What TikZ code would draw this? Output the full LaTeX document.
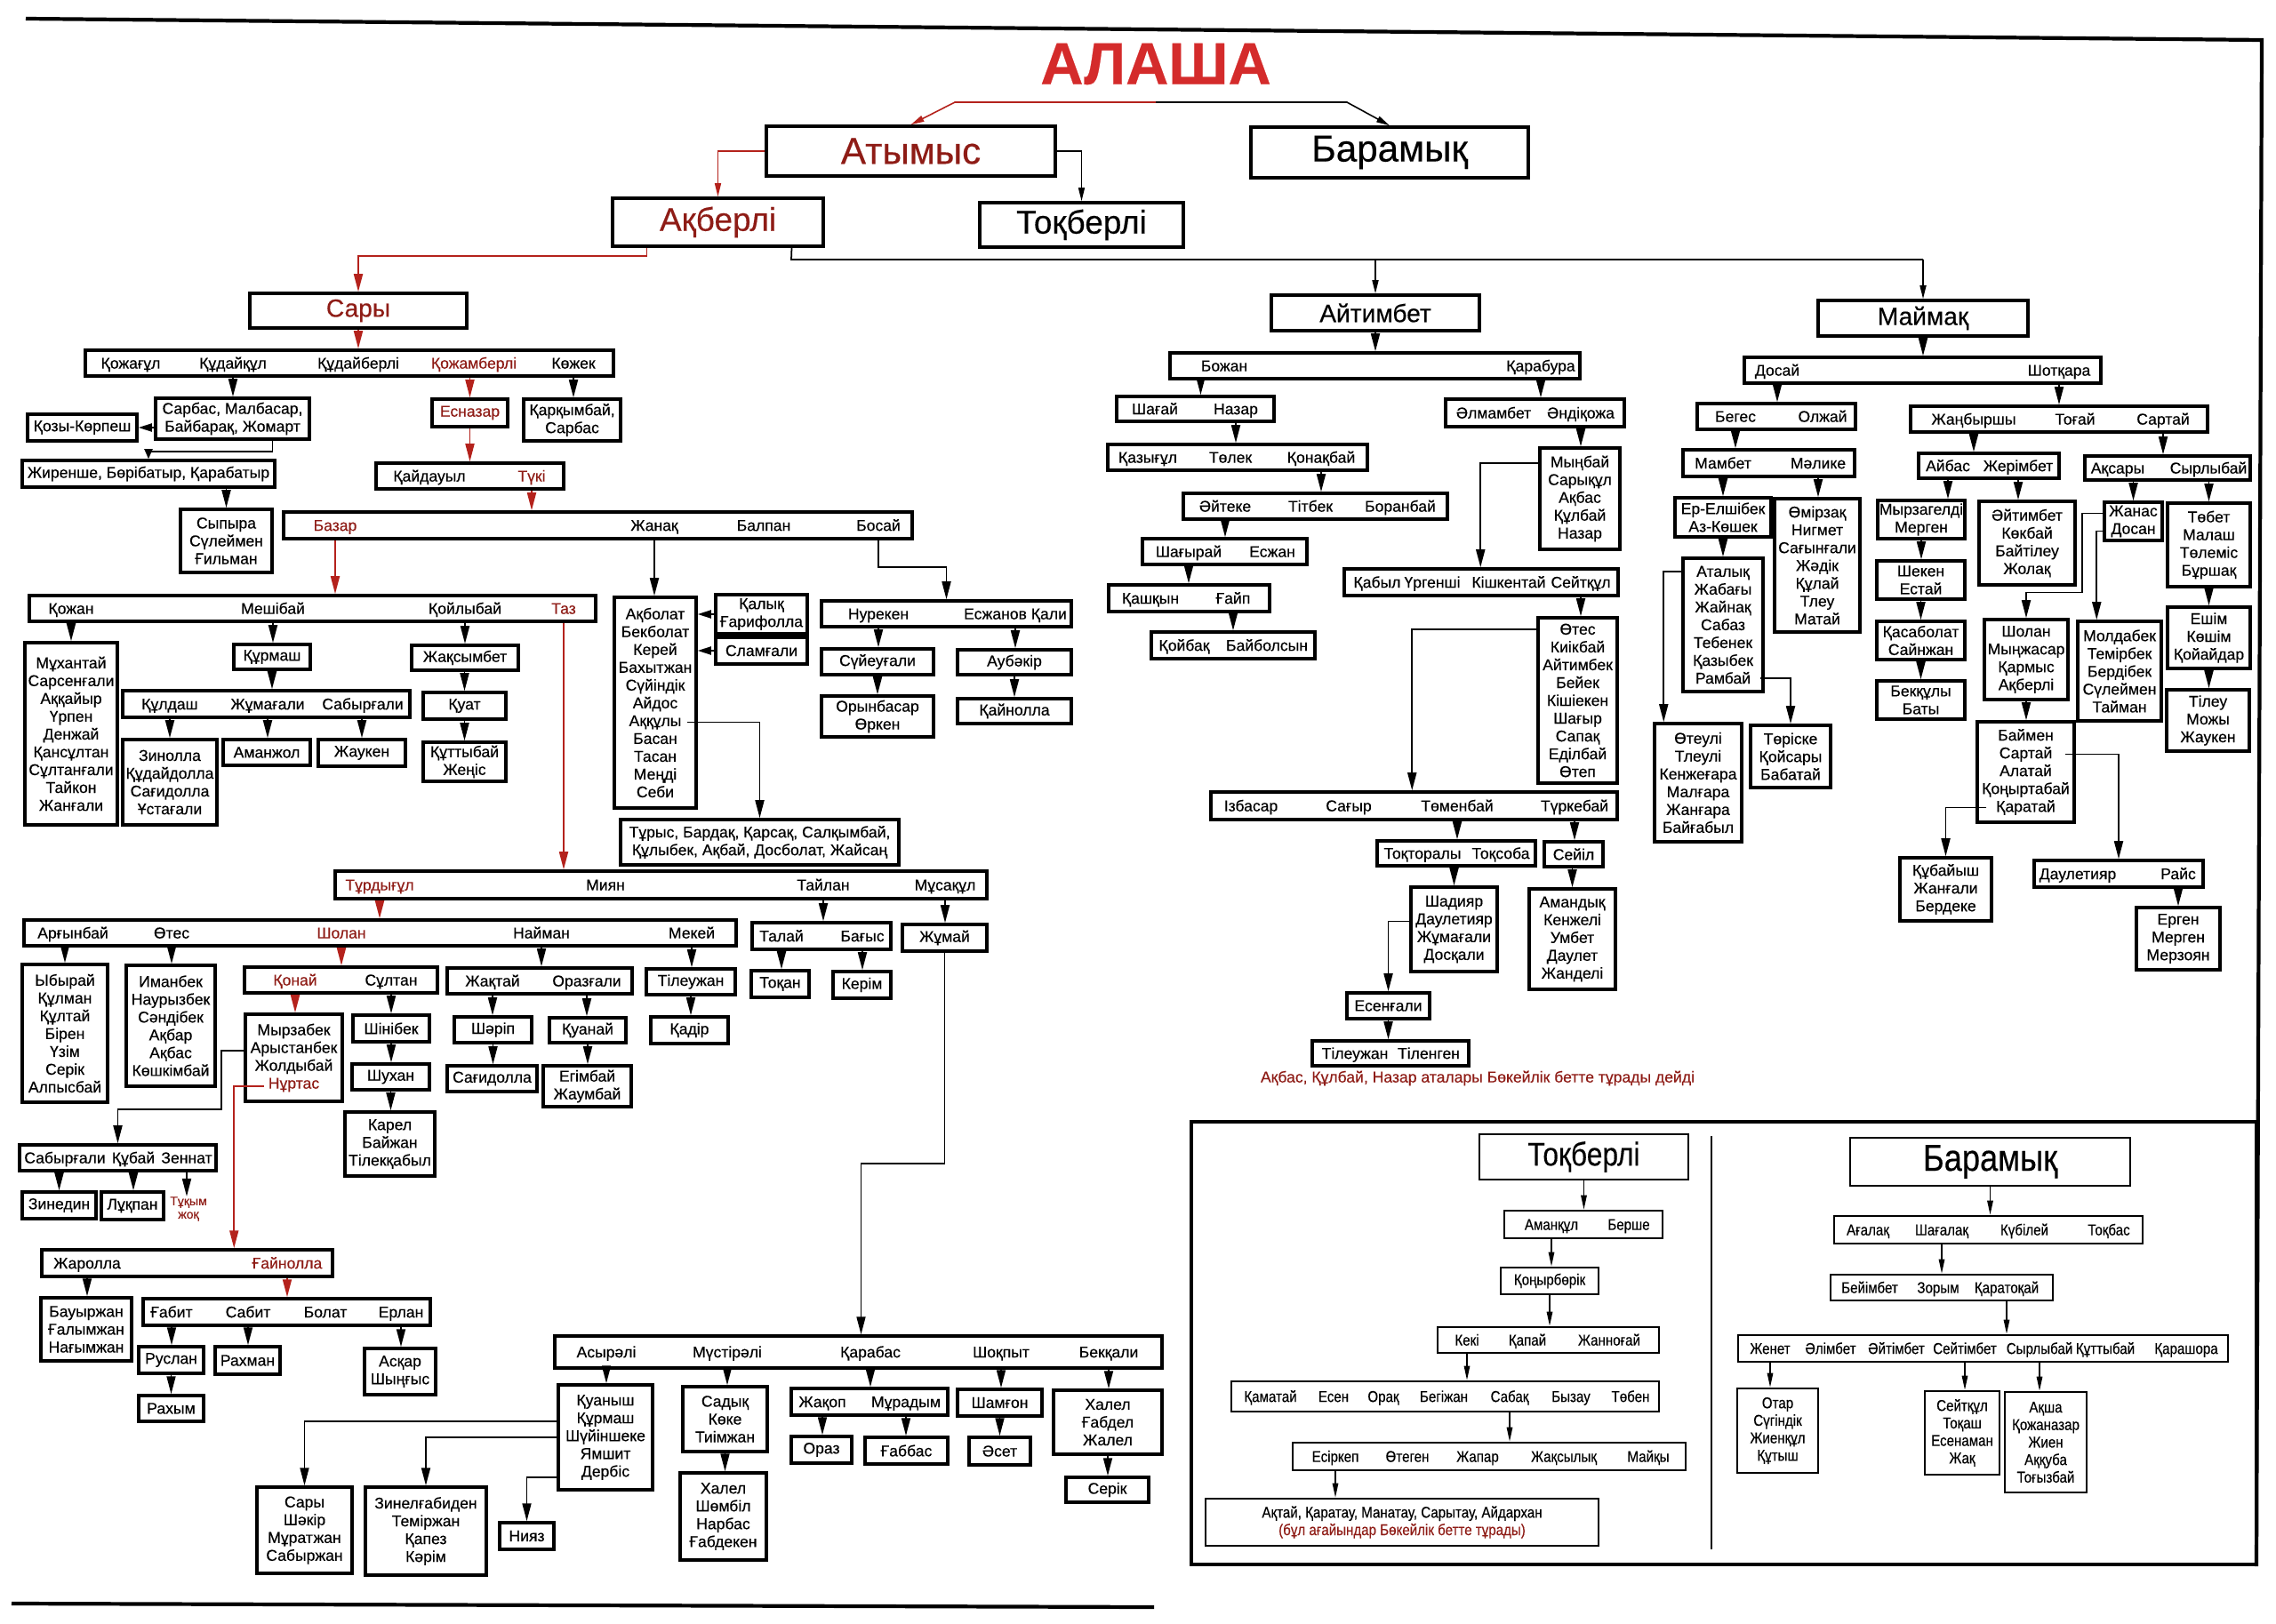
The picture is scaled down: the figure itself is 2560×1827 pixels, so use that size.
\documentclass[tikz,border=0pt]{standalone}
\usepackage{fontspec}
\setmainfont{Liberation Sans}[FakeBold=0.35]
\newfontfamily\condfont{Liberation Sans}[FakeStretch=0.86, FakeBold=0.35]
\usepackage{tikz}
\usetikzlibrary{positioning, arrows.meta, calc}
\usepackage{xcolor}
\definecolor{titlered}{HTML}{D42B2B}
\definecolor{lineagered}{HTML}{8E1C16}
\definecolor{arrowred}{HTML}{B4221C}
\newcommand{\NameFont}{\fontsize{10}{11.4}\selectfont}
\newcommand{\InsetFont}{\condfont\fontsize{10}{11.2}\selectfont}
\newcommand{\ClanFont}{\fontsize{16}{18}\selectfont}
\newcommand{\TribeFont}{\fontsize{24}{26}\selectfont}
\newcommand{\SubFont}{\fontsize{21}{23}\selectfont}

\begin{document}
\begin{tikzpicture}[
  x=0.2mm, y=-0.2mm,
  every node/.style={font=\NameFont},
  cell/.style args={#1/#2/#3/#4}{at={({(#1+#3)/2},{(#2+#4)/2})},
    minimum width={(#3-#1)*0.2mm}, minimum height={(#4-#2)*0.2mm}},
  box/.style={draw, line width=2pt, inner sep=0pt, align=center},
  rowbox/.style={draw, line width=2pt, inner sep=0pt},
  ibox/.style={box, line width=1.5pt, font=\InsetFont},
  irowbox/.style={rowbox, line width=1.5pt},
  nm/.style={inner sep=0pt, text height=8pt, text depth=1pt},
  rnm/.style={nm, text=lineagered},
  inm/.style={nm, font=\InsetFont},
  wire/.style={line width=1pt},
  arr/.style={line width=1pt, -{Triangle[length=4mm, width=2mm]}},
  rarr/.style={arr, draw=arrowred},
  tarr/.style={line width=0.9pt, -{Triangle[length=3mm, width=1.4mm]}},
  iarr/.style={line width=0.8pt, -{Triangle[length=3.2mm, width=1.3mm]}},
  pageline/.style={line width=2.4pt}
]
\useasboundingbox (0,0) rectangle (2560,1827);

% page rules
\draw[pageline] (29,21) -- (2544,45) -- (2538,1762);
\draw[pageline] (13,1804) -- (1298,1808);

% title and the two branches
\node[font=\fontsize{38}{40}\selectfont\bfseries, text=titlered] (alasha) at (1300,72) {АЛАША};
\node[box, font=\TribeFont, text=lineagered, cell=862/142/1187/198] (atymys) {Атымыс};
\node[box, font=\TribeFont, cell=1407/143/1719/200] (baramyk) {Барамық};
\node[box, font=\SubFont, text=lineagered, cell=689/223/926/277] (akberli) {Ақберлі};
\node[box, font=\SubFont, cell=1102/228/1331/278] (tokberli) {Тоқберлі};

\coordinate (split) at (1300,115);
\draw[tarr, draw=arrowred] (split) -- ++(-226,0) -- (atymys.north);
\draw[tarr] (split) -- ++(215,0) -- (baramyk.north);
\draw[tarr, draw=arrowred] (atymys.west) -| (akberli.north);
\draw[tarr] (atymys.east) -| (tokberli.north);

% ---------------- Сары ----------------
\node[box, font=\ClanFont, text=lineagered, cell=281/330/525/369] (sary) {Сары};
\node[rowbox, cell=96/394/690/423] (rsary) {};
\node[nm] (kozhagul) at (147,0 |- rsary) {Қожағұл};
\node[nm] (kudaikul) at (262,0 |- rsary) {Құдайқұл};
\node[nm] (kudaiberli) at (403,0 |- rsary) {Құдайберлі};
\node[rnm] (kozhamberli) at (533,0 |- rsary) {Қожамберлі};
\node[nm] (kozhek) at (645,0 |- rsary) {Көжек};

\node[box, cell=175/448/348/494] (sarbas) {Сарбас, Малбасар,\\Байбарақ, Жомарт};
\node[box, cell=31/466/154/496] (kozy) {Қозы-Көрпеш};
\node[box, cell=25/518/309/548] (zhirenshe) {Жиренше, Бөрібатыр, Қарабатыр};
\node[box, cell=203/573/306/644] (sypyra) {Сыпыра\\Сүлеймен\\Ғильман};
\node[box, text=lineagered, cell=486/449/571/480] (esnazar) {Есназар};
\node[box, cell=589/449/698/496] (karkymbai) {Қарқымбай,\\Сарбас};

\node[rowbox, cell=423/521/634/550] (rkaidauyl) {};
\node[nm] (kaidauyl) at (483,0 |- rkaidauyl) {Қайдауыл};
\node[rnm] (tuki) at (598,0 |- rkaidauyl) {Түкі};

\node[rowbox, cell=319/576/1026/606] (rbazar) {};
\node[rnm] (bazar) at (377,0 |- rbazar) {Базар};
\node[nm] (zhanak) at (736,0 |- rbazar) {Жанақ};
\node[nm] (balpan) at (859,0 |- rbazar) {Балпан};
\node[nm] (bosai) at (988,0 |- rbazar) {Босай};

\node[rowbox, cell=33/670/670/699] (rkozhan) {};
\node[nm] (kozhan) at (80,0 |- rkozhan) {Қожан};
\node[nm] (meshibai) at (307,0 |- rkozhan) {Мешібай};
\node[nm] (koilybai) at (523,0 |- rkozhan) {Қойлыбай};
\node[rnm] (taz) at (634,0 |- rkozhan) {Таз};

\node[box, cell=28/723/132/928] (mukhantai) {Мұхантай\\Сарсенғали\\Аққайыр\\Үрпен\\Денжай\\Қансұлтан\\Сұлтанғали\\Тайкон\\Жанғали};
\node[box, cell=263/725/349/753] (kurmash) {Құрмаш};
\node[rowbox, cell=138/777/461/807] (rkuldash) {};
\node[nm] (kuldash) at (191,0 |- rkuldash) {Құлдаш};
\node[nm] (zhumagali) at (301,0 |- rkuldash) {Жұмағали};
\node[nm] (sabyrgali) at (408,0 |- rkuldash) {Сабырғали};
\node[box, cell=138/832/244/928] (zinolla) {Зинолла\\Құдайдолла\\Сағидолла\\Ұстағали};
\node[box, cell=251/832/349/861] (amanzhol) {Аманжол};
\node[box, cell=358/832/456/862] (zhauken) {Жаукен};
\node[box, cell=463/726/583/754] (zhaksymbet) {Жақсымбет};
\node[box, cell=476/779/569/809] (kuat) {Қуат};
\node[box, cell=476/835/569/879] (kuttybai) {Құттыбай\\Жеңіс};

\node[box, cell=691/672/783/909] (akbolat) {Ақболат\\Бекболат\\Керей\\Бахытжан\\Сүйіндік\\Айдос\\Аққұлы\\Басан\\Тасан\\Меңді\\Себи};
\node[box, cell=805/669/908/713] (kalyk) {Қалық\\Ғарифолла};
\node[box, cell=805/717/908/747] (slamgali) {Сламғали};
\node[rowbox, cell=924/676/1205/705] (rnureken) {};
\node[nm] (nureken) at (988,0 |- rnureken) {Нурекен};
\node[nm] (eszhanov) at (1142,0 |- rnureken) {Есжанов Қали};
\node[box, cell=924/730/1050/759] (suieugali) {Сүйеуғали};
\node[box, cell=924/783/1050/829] (orynbasar) {Орынбасар\\Өркен};
\node[box, cell=1077/731/1205/759] (aubakir) {Аубәкір};
\node[box, cell=1077/786/1205/814] (kainolla) {Қайнолла};
\node[box, cell=698/922/1011/973] (turys) {Тұрыс, Бардақ, Қарсақ, Салқымбай,\\Құлыбек, Ақбай, Досболат, Жайсаң};

% Тұрдығұл line
\node[rowbox, cell=377/980/1110/1011] (rturdygul) {};
\node[rnm] (turdygul) at (427,0 |- rturdygul) {Тұрдығұл};
\node[nm] (miyan) at (681,0 |- rturdygul) {Миян};
\node[nm] (tailan) at (926,0 |- rturdygul) {Тайлан};
\node[nm] (musakul) at (1063,0 |- rturdygul) {Мұсақұл};

\node[rowbox, cell=27/1035/828/1064] (rargynbai) {};
\node[nm] (argynbai) at (82,0 |- rargynbai) {Арғынбай};
\node[nm] (otes) at (193,0 |- rargynbai) {Өтес};
\node[rnm] (sholan) at (384,0 |- rargynbai) {Шолан};
\node[nm] (naiman) at (609,0 |- rargynbai) {Найман};
\node[nm] (mekei) at (778,0 |- rargynbai) {Мекей};

\node[rowbox, cell=846/1038/1002/1068] (rtalai) {};
\node[nm] (talai) at (879,0 |- rtalai) {Талай};
\node[nm] (bagys) at (970,0 |- rtalai) {Бағыс};
\node[box, cell=845/1092/910/1122] (tokan) {Тоқан};
\node[box, cell=937/1093/1002/1123] (kerim) {Керім};
\node[box, cell=1015/1040/1110/1070] (zhumai) {Жұмай};
\node[box, cell=727/1090/827/1119] (tileuzhan) {Тілеужан};
\node[box, cell=732/1144/819/1174] (kadir) {Қадір};

\node[box, cell=25/1085/121/1240] (ybyrai) {Ыбырай\\Құлман\\Құлтай\\Бірен\\Үзім\\Серік\\Алпысбай};
\node[box, cell=142/1086/242/1222] (imanbek) {Иманбек\\Наурызбек\\Сәндібек\\Ақбар\\Ақбас\\Көшкімбай};
\node[rowbox, cell=275/1088/492/1117] (rkonai) {};
\node[rnm] (konai) at (332,0 |- rkonai) {Қонай};
\node[nm] (sultan) at (440,0 |- rkonai) {Сұлтан};
\node[box, cell=276/1141/385/1239] (myrzabek) {Мырзабек\\Арыстанбек\\Жолдыбай\\\textcolor{lineagered}{Нұртас}};
\node[box, cell=397/1142/483/1172] (shinibek) {Шінібек};
\node[box, cell=396/1197/483/1226] (shukhan) {Шухан};
\node[box, cell=388/1251/489/1323] (karel) {Карел\\Байжан\\Тілекқабыл};
\node[rowbox, cell=503/1089/711/1118] (rzhaktai) {};
\node[nm] (zhaktai) at (554,0 |- rzhaktai) {Жақтай};
\node[nm] (orazgali) at (660,0 |- rzhaktai) {Оразғали};
\node[box, cell=511/1144/598/1173] (sharip) {Шәріп};
\node[box, cell=503/1199/604/1228] (sagidolla) {Сағидолла};
\node[box, cell=618/1145/704/1173] (kuanai) {Қуанай};
\node[box, cell=611/1199/710/1245] (egimbai) {Егімбай\\Жаумбай};

\node[rowbox, cell=22/1288/243/1317] (rsabyr) {};
\node[nm] (sabyrgalii) at (73,0 |- rsabyr) {Сабырғали};
\node[nm] (kubai) at (150,0 |- rsabyr) {Құбай};
\node[nm] (zennat) at (210,0 |- rsabyr) {Зеннат};
\node[box, cell=25/1341/108/1371] (zinedin) {Зинедин};
\node[box, cell=114/1341/184/1372] (lukpan) {Лұқпан};
\node[font=\fontsize{8}{8.5}\selectfont, text=lineagered, align=center, inner sep=0pt] (tukym) at (212,1360) {Тұқым\\жоқ};

\node[rowbox, cell=47/1406/374/1436] (rzharolla) {};
\node[nm] (zharolla) at (98,0 |- rzharolla) {Жаролла};
\node[rnm] (gainolla) at (323,0 |- rzharolla) {Ғайнолла};
\node[box, cell=46/1460/148/1531] (bauyrzhan) {Бауыржан\\Ғалымжан\\Нағымжан};
\node[rowbox, cell=161/1461/484/1491] (rgabit) {};
\node[nm] (gabit) at (193,0 |- rgabit) {Ғабит};
\node[nm] (sabit) at (279,0 |- rgabit) {Сабит};
\node[nm] (bolat) at (366,0 |- rgabit) {Болат};
\node[nm] (erlan) at (451,0 |- rgabit) {Ерлан};
\node[box, cell=156/1515/229/1545] (ruslan) {Руслан};
\node[box, cell=242/1515/315/1546] (rakhman) {Рахман};
\node[box, cell=410/1517/490/1569] (askar) {Асқар\\Шыңғыс};
\node[box, cell=156/1570/229/1599] (rakhym) {Рахым};

% Жұмай line
\node[rowbox, cell=624/1503/1307/1539] (rasyrali) {};
\node[nm] (asyrali) at (682,0 |- rasyrali) {Асырәлі};
\node[nm] (mustirali) at (818,0 |- rasyrali) {Мүстірәлі};
\node[nm] (karabas) at (979,0 |- rasyrali) {Қарабас};
\node[nm] (shokpyt) at (1126,0 |- rasyrali) {Шоқпыт};
\node[nm] (bekkali) at (1247,0 |- rasyrali) {Бекқали};
\node[box, cell=628/1558/734/1676] (kuanysh) {Қуаныш\\Құрмаш\\Шүйіншеке\\Ямшит\\Дербіс};
\node[box, cell=768/1560/863/1633] (sadyk) {Садық\\Көке\\Тиімжан};
\node[box, cell=765/1657/862/1755] (khalel) {Халел\\Шөмбіл\\Нарбас\\Ғабдекен};
\node[rowbox, cell=890/1562/1066/1592] (rzhakop) {};
\node[nm] (zhakop) at (925,0 |- rzhakop) {Жақоп};
\node[nm] (muradym) at (1019,0 |- rzhakop) {Мұрадым};
\node[box, cell=890/1616/958/1646] (oraz) {Ораз};
\node[box, cell=973/1617/1066/1647] (gabbas) {Ғаббас};
\node[box, cell=1077/1563/1172/1593] (shamgon) {Шамғон};
\node[box, cell=1090/1617/1159/1648] (aset) {Әсет};
\node[box, cell=1185/1564/1307/1636] (khalelb) {Халел\\Ғабдел\\Жалел};
\node[box, cell=1199/1662/1292/1690] (serik) {Серік};
\node[box, cell=289/1673/396/1770] (saryb) {Сары\\Шәкір\\Мұратжан\\Сабыржан};
\node[box, cell=411/1673/547/1772] (zinel) {Зинелғабиден\\Теміржан\\Қапез\\Кәрім};
\node[box, cell=562/1713/623/1743] (niyaz) {Нияз};

% wires, Сары side (red = the line of descent)
\draw[rarr] ($(akberli.south)+(-80,0)$) -- ++(0,9) -| (sary.north);
\draw[rarr] (sary.south) -- (sary.south |- rsary.north);
\foreach \x/\p/\c in {esnazar/rsary/esnazar,esnazar/esnazar/rkaidauyl,
                      tuki/rkaidauyl/rbazar,bazar/rbazar/rkozhan,
                      taz/rkozhan/rturdygul,turdygul/rturdygul/rargynbai,
                      sholan/rargynbai/rkonai,konai/rkonai/myrzabek,
                      gainolla/rzharolla/rgabit}
  \draw[rarr] (\x |- \p.south) -- (\x |- \c.north);
\foreach \x/\p/\c in {kudaikul/rsary/sarbas,kozhek/rsary/karkymbai,
                      sypyra/zhirenshe/sypyra,kozhan/rkozhan/mukhantai,
                      meshibai/rkozhan/kurmash,kurmash/kurmash/rkuldash,
                      kuldash/rkuldash/zinolla,zhumagali/rkuldash/amanzhol,
                      zhauken/rkuldash/zhauken,koilybai/rkozhan/zhaksymbet,
                      kuat/zhaksymbet/kuat,kuttybai/kuat/kuttybai,
                      zhanak/rbazar/akbolat,nureken/rnureken/suieugali,
                      suieugali/suieugali/orynbasar,eszhanov/rnureken/aubakir,
                      aubakir/aubakir/kainolla,ybyrai/rargynbai/ybyrai,
                      otes/rargynbai/imanbek,sultan/rkonai/shinibek,
                      shinibek/shinibek/shukhan,shukhan/shukhan/karel,
                      naiman/rargynbai/rzhaktai,zhaktai/rzhaktai/sharip,
                      sharip/sharip/sagidolla,orazgali/rzhaktai/kuanai,
                      kuanai/kuanai/egimbai,mekei/rargynbai/tileuzhan,
                      tileuzhan/tileuzhan/kadir,tailan/rturdygul/rtalai,
                      talai/rtalai/tokan,bagys/rtalai/kerim,
                      musakul/rturdygul/zhumai,zinedin/rsabyr/zinedin,
                      kubai/rsabyr/lukpan,zennat/rsabyr/tukym,
                      zharolla/rzharolla/bauyrzhan,gabit/rgabit/ruslan,
                      sabit/rgabit/rakhman,erlan/rgabit/askar,
                      ruslan/ruslan/rakhym,asyrali/rasyrali/kuanysh,
                      mustirali/rasyrali/sadyk,sadyk/sadyk/khalel,
                      karabas/rasyrali/rzhakop,zhakop/rzhakop/oraz,
                      muradym/rzhakop/gabbas,shokpyt/rasyrali/shamgon,
                      shamgon/shamgon/aset,bekkali/rasyrali/khalelb,
                      khalelb/khalelb/serik}
  \draw[arr] (\x |- \p.south) -- (\x |- \c.north);

\draw[arr, -{Triangle[length=3mm, width=1.8mm]}] (sarbas.west |- kozy.east) -- (kozy.east);
\draw[arr, -{Triangle[length=2.2mm, width=1.8mm]}] ($(sarbas.south)+(45,0)$) -- ++(0,12) -| (zhirenshe.north);
\draw[arr] (bosai |- rbazar.south) -- ++(0,30) -| (rnureken.north);
\draw[arr, -{Triangle[length=3mm, width=1.8mm]}] (kalyk.west) -- (kalyk.west -| akbolat.east);
\draw[arr, -{Triangle[length=3mm, width=1.8mm]}] (slamgali.west) -- (slamgali.west -| akbolat.east);
\draw[arr] ($(akbolat.east)+(-12,22)$) -| (turys.north);
\draw[arr] ($(myrzabek.west)+(0,-8)$) -- ++(-25,0) -- ++(0,66) -| (rsabyr.north);
\draw[rarr] ($(myrzabek.west)+(23,32)$) -- ++(-34,0) coordinate (nb) -- (nb |- rzharolla.north);
\draw[arr] (zhumai.south) -- ++(0,237) -- ++(-94,0) coordinate (jb) -- (jb |- rasyrali.north);
\draw[arr] ($(kuanysh.west)+(0,-18)$) -| (saryb.north);
\draw[arr] (kuanysh.west) -| (zinel.north);
\draw[arr] ($(kuanysh.west)+(0,45)$) -| (niyaz.north);

% ---------------- Айтимбет ----------------
\node[box, font=\ClanFont, cell=1430/332/1664/372] (aitimbet) {Айтимбет};
\node[rowbox, cell=1316/397/1777/426] (rbozhan) {};
\node[nm] (bozhan) at (1377,0 |- rbozhan) {Божан};
\node[nm] (karabura) at (1733,0 |- rbozhan) {Қарабура};
\node[rowbox, cell=1256/446/1433/474] (rshagai) {};
\node[nm] (shagai) at (1299,0 |- rshagai) {Шағай};
\node[nm] (nazar) at (1390,0 |- rshagai) {Назар};
\node[rowbox, cell=1246/500/1538/529] (rkazygul) {};
\node[nm] (kazygul) at (1291,0 |- rkazygul) {Қазығұл};
\node[nm] (tolek) at (1384,0 |- rkazygul) {Төлек};
\node[nm] (konakbai) at (1486,0 |- rkazygul) {Қонақбай};
\node[rowbox, cell=1331/555/1628/584] (raiteke) {};
\node[nm] (aiteke) at (1378,0 |- raiteke) {Әйтеке};
\node[nm] (titbek) at (1474,0 |- raiteke) {Тітбек};
\node[nm] (boranbai) at (1575,0 |- raiteke) {Боранбай};
\node[rowbox, cell=1285/606/1470/635] (rshagyrai) {};
\node[nm] (shagyrai) at (1337,0 |- rshagyrai) {Шағырай};
\node[nm] (eszhan) at (1431,0 |- rshagyrai) {Есжан};
\node[rowbox, cell=1247/658/1428/688] (rkashkyn) {};
\node[nm] (kashkyn) at (1294,0 |- rkashkyn) {Қашқын};
\node[nm] (gaip) at (1387,0 |- rkashkyn) {Ғайп};
\node[rowbox, cell=1295/711/1479/741] (rkoibak) {};
\node[nm] (koibak) at (1332,0 |- rkoibak) {Қойбақ};
\node[nm] (baibolsyn) at (1425,0 |- rkoibak) {Байболсын};

\node[rowbox, cell=1626/449/1827/480] (ralmambet) {};
\node[nm] (almambet) at (1680,0 |- ralmambet) {Әлмамбет};
\node[nm] (andikozha) at (1778,0 |- ralmambet) {Әндіқожа};
\node[box, cell=1732/504/1822/618] (mynbai) {Мыңбай\\Сарықұл\\Ақбас\\Құлбай\\Назар};
\node[rowbox, cell=1512/640/1820/670] (rkabyl) {};
\node[nm] (kabyl) at (1549,0 |- rkabyl) {Қабыл};
\node[nm] (urgenshi) at (1611,0 |- rkabyl) {Үргенші};
\node[nm] (kishkentai) at (1697,0 |- rkabyl) {Кішкентай};
\node[nm] (seitkul) at (1778,0 |- rkabyl) {Сейтқұл};
\node[box, cell=1730/695/1819/881] (otesb) {Өтес\\Киікбай\\Айтимбек\\Бейек\\Кішіекен\\Шағыр\\Сапақ\\Еділбай\\Өтеп};
\node[rowbox, cell=1362/891/1819/922] (rizbasar) {};
\node[nm] (izbasar) at (1407,0 |- rizbasar) {Ізбасар};
\node[nm] (sagyr) at (1517,0 |- rizbasar) {Сағыр};
\node[nm] (tomenbai) at (1639,0 |- rizbasar) {Төменбай};
\node[nm] (turkebai) at (1771,0 |- rizbasar) {Түркебай};
\node[rowbox, cell=1549/946/1727/974] (rtoktoraly) {};
\node[nm] (toktoraly) at (1600,0 |- rtoktoraly) {Тоқторалы};
\node[nm] (toksoba) at (1688,0 |- rtoktoraly) {Тоқсоба};
\node[box, cell=1737/947/1803/975] (seiil) {Сейіл};
\node[box, cell=1587/998/1684/1093] (shadiyar) {Шадияр\\Даулетияр\\Жұмағали\\Досқали};
\node[box, cell=1720/1000/1817/1113] (amandyk) {Амандық\\Кенжелі\\Умбет\\Даулет\\Жанделі};
\node[box, cell=1515/1117/1608/1146] (esengali) {Есенғали};
\node[rowbox, cell=1476/1171/1652/1199] (rtileuzhan) {};
\node[nm] (tileuzhanb) at (1524,0 |- rtileuzhan) {Тілеужан};
\node[nm] (tilengen) at (1607,0 |- rtileuzhan) {Тіленген};
\node[text=lineagered] (note) at (1662,1213) {Ақбас, Құлбай, Назар аталары Бөкейлік бетте тұрады дейді};

% ---------------- Маймақ ----------------
\node[box, font=\ClanFont, cell=2045/338/2281/378] (maimak) {Маймақ};
\node[rowbox, cell=1962/402/2363/431] (rdosai) {};
\node[nm] (dosai) at (1999,0 |- rdosai) {Досай};
\node[nm] (shotkara) at (2316,0 |- rdosai) {Шотқара};
\node[rowbox, cell=1909/454/2087/483] (rbeges) {};
\node[nm] (beges) at (1952,0 |- rbeges) {Бегес};
\node[nm] (olzhai) at (2050,0 |- rbeges) {Олжай};
\node[rowbox, cell=1893/506/2086/536] (rmambet) {};
\node[nm] (mambet) at (1938,0 |- rmambet) {Мамбет};
\node[nm] (malike) at (2045,0 |- rmambet) {Мәлике};
\node[box, cell=1884/560/1992/604] (elshibek) {Ер-Елшібек\\Аз-Көшек};
\node[box, cell=1996/561/2092/711] (omirzak) {Өмірзақ\\Нигмет\\Сағынғали\\Жәдік\\Құлай\\Тлеу\\Матай};
\node[box, cell=1893/628/1983/778] (atalyk) {Аталық\\Жабағы\\Жайнақ\\Сабаз\\Тебенек\\Қазыбек\\Рамбай};
\node[box, cell=1861/814/1959/947] (oteuli) {Өтеулі\\Тлеулі\\Кенжеғара\\Малғара\\Жанғара\\Байғабыл};
\node[box, cell=1969/816/2059/886] (toriske) {Төріске\\Қойсары\\Бабатай};
\node[rowbox, cell=2149/457/2483/486] (rzhanbyrshy) {};
\node[nm] (zhanbyrshy) at (2220,0 |- rzhanbyrshy) {Жаңбыршы};
\node[nm] (togai) at (2334,0 |- rzhanbyrshy) {Тоғай};
\node[nm] (sartai) at (2433,0 |- rzhanbyrshy) {Сартай};
\node[rowbox, cell=2158/510/2316/538] (raibas) {};
\node[nm] (aibas) at (2191,0 |- raibas) {Айбас};
\node[nm] (zherimbet) at (2270,0 |- raibas) {Жерімбет};
\node[box, cell=2112/563/2210/606] (myrzageldi) {Мырзагелді\\Мерген};
\node[box, cell=2111/631/2210/674] (shoken) {Шекен\\Естай};
\node[box, cell=2111/699/2210/742] (kasabolat) {Қасаболат\\Сайнжан};
\node[box, cell=2111/766/2210/809] (bekkuly) {Бекқұлы\\Баты};
\node[box, cell=2226/564/2334/658] (aitimbetb) {Әйтимбет\\Көкбай\\Байтілеу\\Жолақ};
\node[rowbox, cell=2345/513/2531/540] (raksary) {};
\node[nm] (aksary) at (2382,0 |- raksary) {Ақсары};
\node[nm] (syrlybai) at (2484,0 |- raksary) {Сырлыбай};
\node[box, cell=2367/565/2432/608] (zhanas) {Жанас\\Досан};
\node[box, cell=2438/566/2531/660] (tobet) {Төбет\\Малаш\\Төлеміс\\Бұршақ};
\node[box, cell=2438/683/2531/752] (eshim) {Ешім\\Көшім\\Қойайдар};
\node[box, cell=2437/776/2530/845] (tileu) {Тілеу\\Можы\\Жаукен};
\node[box, cell=2232/697/2326/787] (sholanb) {Шолан\\Мыңжасар\\Қармыс\\Ақберлі};
\node[box, cell=2337/699/2431/811] (moldabek) {Молдабек\\Темірбек\\Бердібек\\Сүлеймен\\Тайман};
\node[box, cell=2224/812/2333/925] (baimen) {Баймен\\Сартай\\Алатай\\Қоңыртабай\\Қаратай};
\node[box, cell=2137/965/2240/1036] (kubaiysh) {Құбайыш\\Жанғали\\Бердеке};
\node[rowbox, cell=2288/968/2478/998] (rdauletiyar) {};
\node[nm] (dauletiyar) at (2337,0 |- rdauletiyar) {Даулетияр};
\node[nm] (rais) at (2450,0 |- rdauletiyar) {Райс};
\node[box, cell=2403/1021/2497/1091] (ergen) {Ерген\\Мерген\\Мерзоян};

% wires, Ақберлі right side
\coordinate (abus) at (890,292);
\draw[wire] ($(akberli.south)+(83,0)$) -- (abus) -- (abus -| maimak.north);
\foreach \c in {aitimbet,maimak}
  \draw[tarr] (abus -| \c.north) -- (\c.north);
\draw[arr] (aitimbet.south) -- (aitimbet.south |- rbozhan.north);
\draw[arr] (maimak.south) -- (maimak.south |- rdosai.north);
\foreach \x/\p/\c in {bozhan.west/rbozhan/rshagai,nazar/rshagai/rkazygul,
                      konakbai/rkazygul/raiteke,aiteke/raiteke/rshagyrai,
                      shagyrai/rshagyrai/rkashkyn,gaip/rkashkyn/rkoibak,
                      karabura/rbozhan/ralmambet,andikozha/ralmambet/mynbai,
                      seitkul/rkabyl/otesb,tomenbai/rizbasar/rtoktoraly,
                      turkebai/rizbasar/seiil,shadiyar/rtoktoraly/shadiyar,
                      amandyk/seiil/amandyk,esengali/esengali/rtileuzhan,
                      dosai/rdosai/rbeges,beges/rbeges/rmambet,
                      mambet/rmambet/elshibek,malike/rmambet/omirzak,
                      elshibek/elshibek/atalyk,shotkara/rdosai/rzhanbyrshy,
                      zhanbyrshy/rzhanbyrshy/raibas,aibas/raibas/myrzageldi,
                      zherimbet/raibas/aitimbetb,myrzageldi/myrzageldi/shoken,
                      shoken/shoken/kasabolat,kasabolat/kasabolat/bekkuly,
                      sartai/rzhanbyrshy/raksary,zhanas/raksary/zhanas,
                      tobet/raksary/tobet,tobet/tobet/eshim,eshim/eshim/tileu,
                      sholanb/sholanb/baimen,rais/rdauletiyar/ergen}
  \draw[arr] (\x |- \p.south) -- (\x |- \c.north);
\draw[arr] ($(mynbai.west)+(0,-40)$) -- ++(-65,0) coordinate (mb) -- (mb |- rkabyl.north);
\draw[arr] ($(otesb.west)+(0,-80)$) -- ++(-140,0) coordinate (ob) -- (ob |- rizbasar.north);
\draw[arr] ($(shadiyar.west)+(0,-9)$) -| (esengali.north);
\draw[arr] ($(atalyk.west)+(0,-60)$) -- ++(-20,0) coordinate (ab) -- (ab |- oteuli.north);
\draw[arr] ($(atalyk.east)+(-5,60)$) -| (toriske.north);
\draw[arr] ($(zhanas.west)+(0,-9)$) -- ++(-23,0) -- ++(0,89) -| (sholanb.north);
\draw[arr] ($(zhanas.west)+(0,11)$) -- ++(-7,0) coordinate (zb) -- (zb |- moldabek.north);
\draw[arr] ($(baimen.east)+(-12,-20)$) -| (rdauletiyar.north);
\draw[arr] ($(baimen.west)+(12,40)$) -| (kubaiysh.north);

% ---------------- inset: Тоқберлі and Барамық ----------------
\draw[pageline] (1340,1262) rectangle (2538,1760);
\draw[line width=0.8pt] (1925,1278) -- (1925,1743);

\node[ibox, font=\condfont\fontsize{21}{23}\selectfont, cell=1664/1276/1899/1327] (tokbh) {Тоқберлі};
\node[irowbox, cell=1692/1362/1870/1393] (ramankul) {};
\node[inm] (amankul) at (1745,0 |- ramankul) {Аманқұл};
\node[inm] (bershe) at (1832,0 |- ramankul) {Берше};
\node[ibox, cell=1688/1426/1798/1456] (konyrborik) {Қоңырбөрік};
\node[irowbox, cell=1617/1493/1866/1522] (rkeki) {};
\foreach \n/\t/\x in {keki/Кекі/1650,kapai/Қапай/1718,zhannogai/Жанноғай/1810}
  \node[inm] (\n) at (\x,0 |- rkeki) {\t};
\node[irowbox, cell=1385/1554/1866/1588] (rkamatai) {};
\foreach \n/\t/\x in {kamatai/Қаматай/1429,esen/Есен/1500,orak/Орақ/1556,
                      begizhan/Бегіжан/1624,sabak/Сабақ/1698,byzau/Бызау/1767,
                      toben/Төбен/1834}
  \node[inm] (\n) at (\x,0 |- rkamatai) {\t};
\node[irowbox, cell=1454/1623/1896/1654] (resirkep) {};
\foreach \n/\t/\x in {esirkep/Есіркеп/1502,otegen/Өтеген/1583,zhapar/Жапар/1662,
                      zhaksylyk/Жақсылық/1759,maiky/Майқы/1854}
  \node[inm] (\n) at (\x,0 |- resirkep) {\t};
\node[ibox, cell=1356/1686/1798/1739] (aktai) {Ақтай, Қаратау, Манатау, Сарытау, Айдархан\\\textcolor{lineagered}{(бұл ағайындар Бөкейлік бетте тұрады)}};

\node[ibox, font=\condfont\fontsize{24}{26}\selectfont, cell=2081/1280/2396/1334] (barbh) {Барамық};
\node[irowbox, cell=2063/1368/2410/1399] (ragalak) {};
\foreach \n/\t/\x in {agalak/Ағалақ/2101,shagalak/Шағалақ/2184,kubilei/Күбілей/2277,
                      tokbas/Тоқбас/2372}
  \node[inm] (\n) at (\x,0 |- ragalak) {\t};
\node[irowbox, cell=2059/1434/2309/1463] (rbeiimbet) {};
\foreach \n/\t/\x in {beiimbet/Бейімбет/2103,zorym/Зорым/2180,karatokai/Қаратоқай/2257}
  \node[inm] (\n) at (\x,0 |- rbeiimbet) {\t};
\node[irowbox, cell=1955/1502/2506/1532] (rzhenet) {};
\foreach \n/\t/\x in {zhenet/Женет/1991,alimbet/Әлімбет/2059,aitimbetc/Әйтімбет/2133,
                      seitimbet/Сейтімбет/2210,syrlybaib/Сырлыбай/2294,
                      kuttybaib/Құттыбай/2368,karashora/Қарашора/2459}
  \node[inm] (\n) at (\x,0 |- rzhenet) {\t};
\node[ibox, cell=1954/1562/2045/1657] (otar) {Отар\\Сүгіндік\\Жиенқұл\\Құтыш};
\node[ibox, cell=2165/1565/2249/1659] (seitkulb) {Сейтқұл\\Тоқаш\\Есенаман\\Жақ};
\node[ibox, cell=2255/1566/2347/1679] (aksha) {Ақша\\Қожаназар\\Жиен\\Аққуба\\Тоғызбай};

\foreach \x/\p/\c in {tokbh/tokbh/ramankul,amankul/ramankul/konyrborik,
                      konyrborik/konyrborik/rkeki,keki/rkeki/rkamatai,
                      sabak/rkamatai/resirkep,esirkep/resirkep/aktai,
                      barbh/barbh/ragalak,shagalak/ragalak/rbeiimbet,
                      karatokai/rbeiimbet/rzhenet,zhenet/rzhenet/otar,
                      seitimbet/rzhenet/seitkulb,syrlybaib/rzhenet/aksha}
  \draw[iarr] (\x |- \p.south) -- (\x |- \c.north);
\end{tikzpicture}
\end{document}
